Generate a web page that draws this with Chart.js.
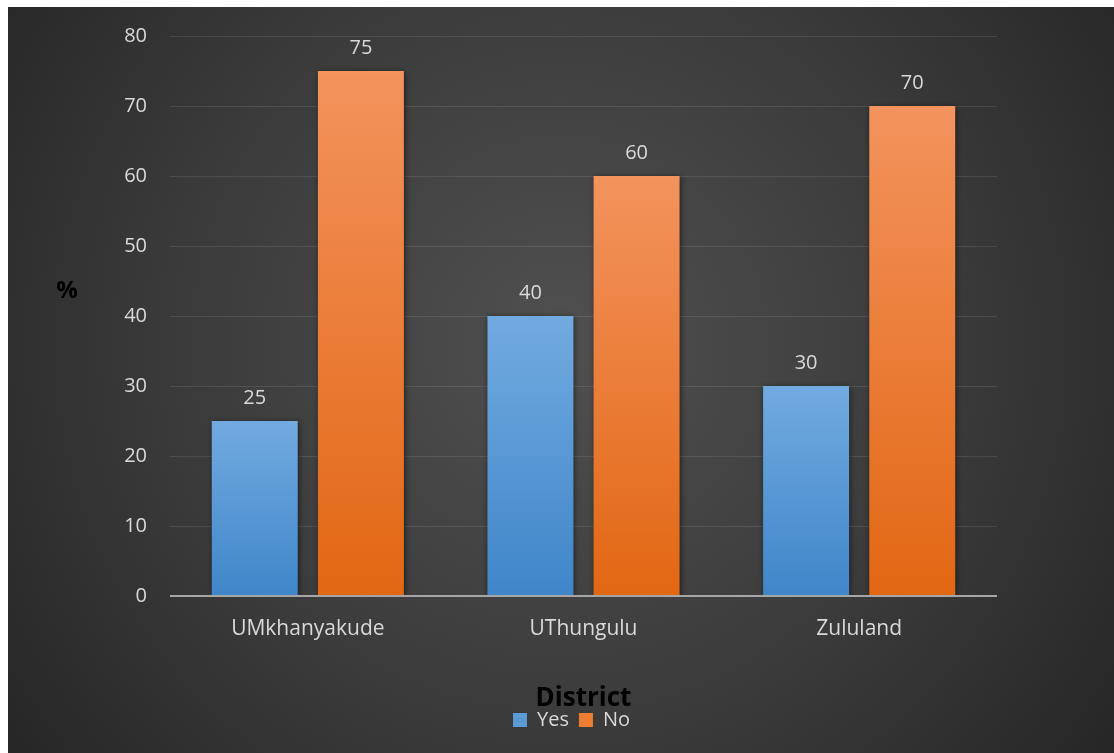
<!DOCTYPE html>
<html>
<head>
<meta charset="utf-8">
<script src="https://cdn.jsdelivr.net/npm/chart.js@4.4.1/dist/chart.umd.min.js"></script>
<style>
  html, body { margin: 0; padding: 0; background: #ffffff; }
  #wrap { position: absolute; left: 8px; top: 7px; width: 1106px; height: 746px; }
  canvas { display: block; }
</style>
</head>
<body>
<div id="wrap"><canvas id="chart" width="1106" height="746"></canvas></div>
<script>
// District survey responses (%)
const districts = ['UMkhanyakude', 'UThungulu', 'Zululand'];
const yesValues = [25, 40, 30];
const noValues = [75, 60, 70];
const yTicks = [0, 10, 20, 30, 40, 50, 60, 70, 80];

const FONT = '"Open Sans", Lato, sans-serif';
const TEXT = '#d9d9d9';

// Vertical gradient per bar, light at the top and deeper toward the base
function barGradient(topColor, bottomColor, fallback) {
  return function (ctx) {
    const chart = ctx.chart;
    if (!chart.chartArea || ctx.type !== 'data') return fallback;
    const y = chart.scales.y;
    const top = y.getPixelForValue(ctx.raw);
    const base = y.getPixelForValue(0);
    if (!isFinite(top) || top === base) return fallback;
    const g = chart.ctx.createLinearGradient(0, top, 0, base);
    g.addColorStop(0, topColor);
    g.addColorStop(1, bottomColor);
    return g;
  };
}

const backdrop = {
  id: 'backdrop',
  beforeDraw(chart) {
    const { ctx, width, height } = chart;
    ctx.save();
    const g = ctx.createRadialGradient(width * 0.5, height * 0.45, 0, width * 0.5, height * 0.45, 720);
    g.addColorStop(0, '#505050');
    g.addColorStop(0.55, '#3a3a3a');
    g.addColorStop(1, '#242424');
    ctx.fillStyle = g;
    ctx.fillRect(0, 0, width, height);
    ctx.restore();
  }
};

// nudge the legend a little left of the plot centre
const legendShift = {
  id: 'legendShift',
  afterLayout(chart) {
    if (chart.legend) {
      chart.legend.left -= 12;
      chart.legend.right -= 12;
    }
  }
};

const barShadow = {
  id: 'barShadow',
  beforeDatasetsDraw(chart) {
    const ctx = chart.ctx;
    ctx.save();
    ctx.shadowColor = 'rgba(0,0,0,0.55)';
    ctx.shadowBlur = 6;
    ctx.shadowOffsetX = 1;
    ctx.shadowOffsetY = 1;
  },
  afterDatasetsDraw(chart) {
    chart.ctx.restore();
    // baseline drawn over the bars
    const ctx = chart.ctx;
    const { left, right } = chart.chartArea;
    const y0 = chart.scales.y.getPixelForValue(0);
    ctx.save();
    ctx.strokeStyle = '#a6a6a6';
    ctx.lineWidth = 2;
    ctx.beginPath();
    ctx.moveTo(left, y0);
    ctx.lineTo(right, y0);
    ctx.stroke();
    ctx.restore();
  }
};

const valueLabels = {
  id: 'valueLabels',
  afterDraw(chart) {
    const ctx = chart.ctx;
    ctx.save();
    ctx.font = '20px ' + FONT;
    ctx.fillStyle = TEXT;
    ctx.textAlign = 'center';
    ctx.textBaseline = 'middle';
    chart.data.datasets.forEach((ds, i) => {
      chart.getDatasetMeta(i).data.forEach((bar, j) => {
        ctx.fillText(String(ds.data[j]), bar.x, bar.y - 23);
      });
    });
    // horizontal y-axis caption
    ctx.font = 'bold 24px ' + FONT;
    ctx.fillStyle = '#000000';
    ctx.fillText('%', 59, 284);
    ctx.restore();
  }
};

new Chart(document.getElementById('chart'), {
  type: 'bar',
  data: {
    labels: districts,
    datasets: [
      {
        label: 'Yes',
        data: yesValues,
        backgroundColor: barGradient('#72aae0', '#3f86c9', '#5b9bd5'),
        borderWidth: 0,
        categoryPercentage: 0.77,
        barPercentage: 0.81
      },
      {
        label: 'No',
        data: noValues,
        backgroundColor: barGradient('#f3935d', '#e26713', '#ed7d31'),
        borderWidth: 0,
        categoryPercentage: 0.77,
        barPercentage: 0.81
      }
    ]
  },
  options: {
    responsive: false,
    animation: false,
    layout: { padding: { left: 0, right: 117, top: 29, bottom: 13 } },
    plugins: {
      legend: {
        position: 'bottom',
        fullSize: false,
        labels: {
          color: TEXT,
          font: { family: FONT, size: 20 },
          boxWidth: 14,
          boxHeight: 14,
          padding: 10,
          generateLabels(chart) {
            return chart.data.datasets.map((ds, i) => ({
              text: ds.label,
              fillStyle: i === 0 ? '#5b9bd5' : '#ed7d31',
              strokeStyle: 'transparent',
              lineWidth: 0,
              fontColor: TEXT,
              datasetIndex: i,
              hidden: false
            }));
          }
        }
      },
      tooltip: { enabled: false }
    },
    scales: {
      x: {
        grid: { display: false, drawTicks: false },
        border: { display: false },
        ticks: { color: TEXT, font: { family: FONT, size: 21 }, padding: 20 },
        title: {
          display: true,
          text: 'District',
          color: '#000000',
          font: { family: FONT, size: 26, weight: 'bold', lineHeight: 1 },
          padding: { top: 0, bottom: -12 }
        },
        afterFit(scale) { scale.height = 104; }
      },
      y: {
        min: 0,
        max: 80,
        afterBuildTicks(scale) { scale.ticks = yTicks.map(v => ({ value: v })); },
        grid: { color: 'rgba(255,255,255,0.10)', lineWidth: 1, drawTicks: false },
        border: { display: false },
        ticks: { color: TEXT, font: { family: FONT, size: 20 }, padding: 23 },
        afterFit(scale) {
          scale.width = 162;
          scale.paddingTop = 0;
          scale.paddingBottom = 0;
        }
      }
    }
  },
  plugins: [backdrop, legendShift, barShadow, valueLabels]
});
</script>
</body>
</html>
